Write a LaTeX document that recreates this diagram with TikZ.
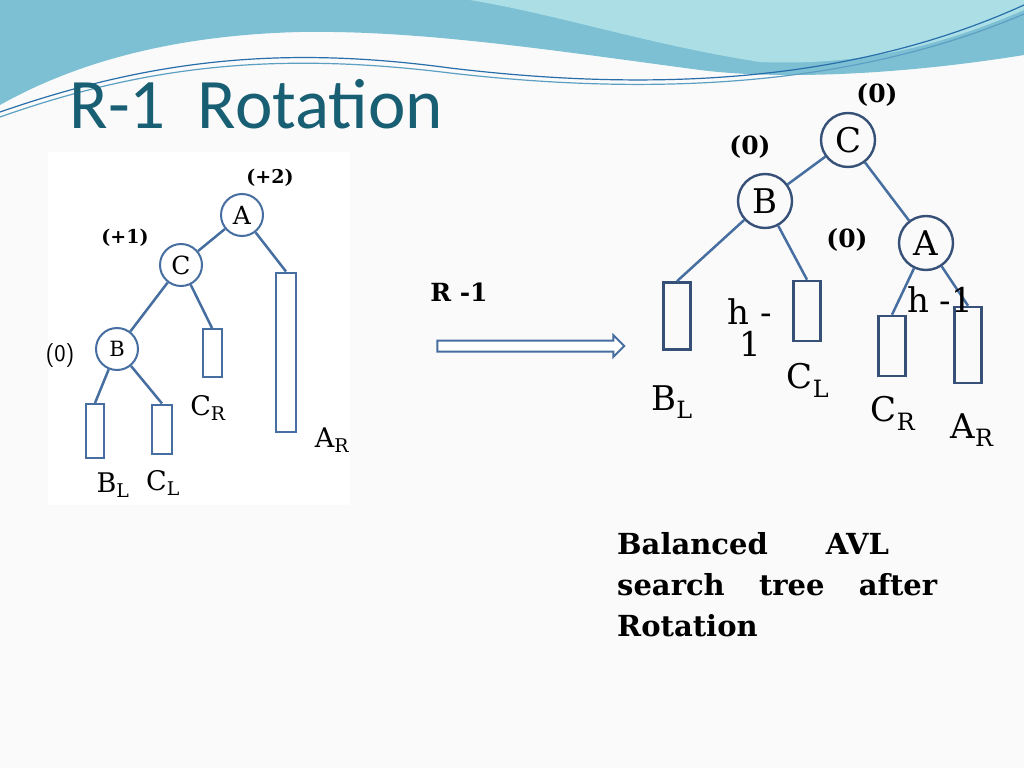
\documentclass[tikz,border=0pt]{standalone}
\usepackage{fontspec}
\setmainfont{DejaVu Serif}
\newfontfamily\titlefont{Carlito}
\usetikzlibrary{shapes.arrows}
\definecolor{wave1}{RGB}{125,192,212}
\definecolor{wave2}{RGB}{172,222,230}
\definecolor{wline}{RGB}{40,110,170}
\definecolor{tcol}{RGB}{25,95,115}
\definecolor{edge}{RGB}{70,110,160}
\definecolor{ring}{RGB}{55,80,120}
\begin{document}
\begin{tikzpicture}[x=1pt,y=-1pt,
  lnode/.style={circle,draw=edge,line width=2pt,minimum size=42pt,inner sep=0pt,font=\fontsize{25}{25}\selectfont},
  rnode/.style={circle,draw=ring,line width=2.4pt,minimum size=54pt,inner sep=0pt,font=\fontsize{34}{34}\selectfont},
  lbox/.style={draw=edge,line width=2pt},
  rbox/.style={draw=ring,line width=2.6pt},
  ed/.style={draw=edge,line width=2.5pt},
  lab/.style={font=\fontsize{27}{27}\selectfont},
  rlab/.style={font=\fontsize{34}{34}\selectfont},
  bal/.style={font=\bfseries\fontsize{25}{25}\selectfont}]
\useasboundingbox (0,0) rectangle (1024,768);
\fill[white!96!gray] (0,0) rectangle (1024,768);
% header waves
\fill[wave1] (0,0) -- (1024,0) -- (1024,55) .. controls (900,75) and (780,80) .. (700,70) .. controls (550,50) and (420,30) .. (300,32) .. controls (180,35) and (80,60) .. (0,105) -- cycle;
\fill[wave2] (470,0) -- (1024,0) -- (1024,10) .. controls (920,55) and (840,65) .. (760,62) .. controls (650,45) and (560,15) .. (470,0) -- cycle;
\draw[wline,line width=1.2pt] (0,112) .. controls (150,60) and (280,45) .. (450,68) .. controls (650,92) and (850,84) .. (1024,5);
\draw[wave1!60!wline,line width=1.2pt] (0,117) .. controls (150,64) and (280,52) .. (450,73) .. controls (650,96) and (850,88) .. (1024,14);
\node[anchor=west,text=tcol,font=\titlefont\fontsize{71}{71}\selectfont] (title) at (66,104) {R-1\ \ Rotation};
% left tree
\fill[white] (48,152) rectangle (350,505);
\node[lnode] (A) at (242,215) {A};
\node[lnode] (C) at (181,265) {C};
\node[lnode,font=\fontsize{21}{21}\selectfont] (B) at (117,349) {B};
\node[lbox,minimum width=18pt,minimum height=54pt,inner sep=0pt] (BL) at (95,431) {};
\node[lbox,minimum width=20pt,minimum height=49pt,inner sep=0pt] (CL) at (162,429) {};
\node[lbox,minimum width=19pt,minimum height=48pt,inner sep=0pt] (CR) at (212,353) {};
\node[lbox,minimum width=20pt,minimum height=159pt,inner sep=0pt] (AR) at (286,352) {};
\draw[ed] (A) -- (C); \draw[ed] (A) -- (AR.north);
\draw[ed] (C) -- (B); \draw[ed] (C) -- (CR.north);
\draw[ed] (B) -- (BL.north); \draw[ed] (B) -- (CL.north);
\node[font=\bfseries\fontsize{19}{19}\selectfont] (pa) at (270,178) {(+2)};
\node[font=\bfseries\fontsize{19}{19}\selectfont] (pc) at (125,238) {(+1)};
\node[font=\sffamily\fontsize{24}{24}\selectfont] (pb) at (60,356) {(0)};
\node[lab] (tcr) at (208,408) {C\textsubscript{R}};
\node[lab] (tar) at (332,440) {A\textsubscript{R}};
\node[lab] (tbl) at (113,485) {B\textsubscript{L}};
\node[lab] (tcl) at (163,483) {C\textsubscript{L}};
% arrow
\node[bal] (r1) at (459,292) {R -1};
\node[single arrow,draw=edge,line width=2pt,fill=white,minimum width=22pt,single arrow head extend=3pt,minimum height=187pt,inner sep=2pt] (arr) at (528,346) {};
% right tree
\node[rnode] (C2) at (848,140) {C};
\node[rnode] (B2) at (765,201) {B};
\node[rnode] (A2) at (926,243) {A};
\node[rbox,minimum width=27pt,minimum height=67pt,inner sep=0pt] (BL2) at (677,316) {};
\node[rbox,minimum width=27pt,minimum height=60pt,inner sep=0pt] (CL2) at (807,311) {};
\node[rbox,minimum width=27pt,minimum height=60pt,inner sep=0pt] (CR2) at (892,346) {};
\node[rbox,minimum width=27pt,minimum height=76pt,inner sep=0pt] (AR2) at (968,345) {};
\draw[ed] (C2) -- (B2); \draw[ed] (C2) -- (A2);
\draw[ed] (B2) -- (BL2.north); \draw[ed] (B2) -- (CL2.north);
\draw[ed] (A2) -- (CR2.north); \draw[ed] (A2) -- (AR2.north);
\node[bal] (p1) at (877,95) {(0)};
\node[bal] (p2) at (750,147) {(0)};
\node[bal] (p3) at (847,240) {(0)};
\node[rlab,align=center] (h1) at (750,328) {h -\\[-2pt]1};
\node[rlab] (h2) at (940,300) {h -1};
\node[rlab] (tbl2) at (672,402) {B\textsubscript{L}};
\node[rlab] (tcl2) at (808,380) {C\textsubscript{L}};
\node[rlab] (tcr2) at (893,413) {C\textsubscript{R}};
\node[rlab] (tar2) at (972,430) {A\textsubscript{R}};
\node[anchor=north west,inner sep=0pt,font=\bfseries\fontsize{29}{29}\selectfont] (txt) at (617,532) {\parbox{320pt}{\baselineskip=41pt Balanced\hspace{58pt}AVL\\search\hfill tree\hfill after\\Rotation}};
\end{tikzpicture}
\end{document}
